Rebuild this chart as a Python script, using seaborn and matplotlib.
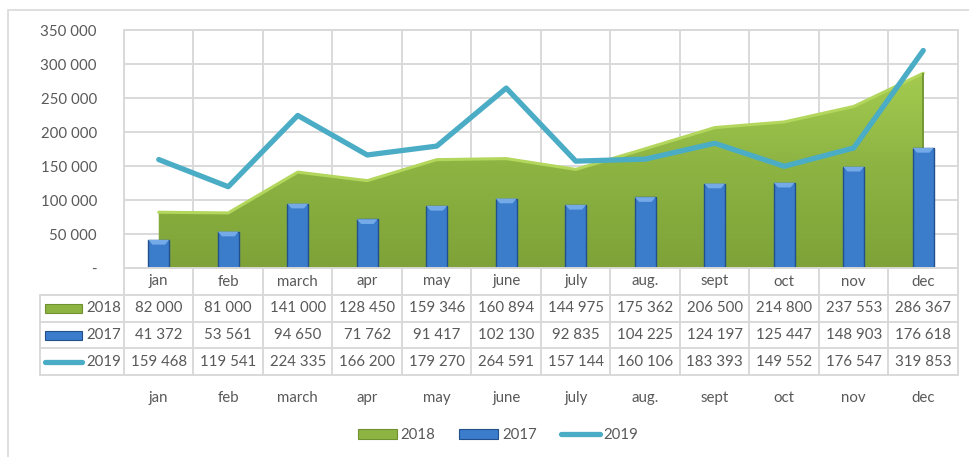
import numpy as np
import pandas as pd
import matplotlib
matplotlib.use("Agg")
import matplotlib.pyplot as plt
import matplotlib.patches as mpatches
from matplotlib.lines import Line2D
from matplotlib.colors import LinearSegmentedColormap
import seaborn as sns

months = ["jan", "feb", "march", "apr", "may", "june", "july", "aug.", "sept", "oct", "nov", "dec"]
sales_2018 = [82000, 81000, 141000, 128450, 159346, 160894, 144975, 175362, 206500, 214800, 237553, 286367]
sales_2017 = [41372, 53561, 94650, 71762, 91417, 102130, 92835, 104225, 124197, 125447, 148903, 176618]
sales_2019 = [159468, 119541, 224335, 166200, 179270, 264591, 157144, 160106, 183393, 149552, 176547, 319853]
y_ticks = [0, 50000, 100000, 150000, 200000, 250000, 300000, 350000]

sns.set_theme(style="white")
plt.rcParams["font.family"] = ["Lato", "DejaVu Sans"]
TXT = "#595959"
GRID = "#D9D9D9"
GREEN = "#8DB443"
GREEN_EDGE = "#B3D65C"
BLUE = "#3B7CCB"
BLUE_EDGE = "#22508C"
BLUE_TOP = "#74AAE8"
AQUA = "#4BACC6"
FS = 10.8

W, H = 970, 457
fig = plt.figure(figsize=(W / 100, H / 100), dpi=100)

def fx(px):
    return px / W

def fy(py):
    return 1 - py / H

# outer frame
fig.patches.append(mpatches.Rectangle((fx(8), fy(470)), fx(980), fy(10) - fy(470),
                                      transform=fig.transFigure, fill=False,
                                      edgecolor="#D9D9D9", linewidth=1.2))

L, R, T, B = 124, 958, 30, 268
ax = fig.add_axes([fx(L), fy(B), fx(R - L), fy(T) - fy(B)])
x = np.arange(len(months))

# 2018 area with gradient (light at top, darker at bottom)
poly = ax.fill_between(x, sales_2018, 0, color=GREEN, zorder=1, linewidth=0)
cmap = LinearSegmentedColormap.from_list("g", ["#7EA237", "#8DB443", "#A6CD50"])
grad = np.linspace(1, 0, 256).reshape(-1, 1)
im = ax.imshow(grad, cmap=cmap, vmin=0, vmax=1, aspect="auto",
               extent=[-0.5, 11.5, 0, 300000], origin="upper", zorder=1.1)
im.set_clip_path(poly.get_paths()[0], transform=ax.transData)
ax.plot(x, sales_2018, color=GREEN_EDGE, linewidth=2.2, zorder=1.2, solid_joinstyle="round")
ax.vlines(x[-1], 0, sales_2018[-1], color="#6F9130", linewidth=1.2, zorder=1.2)

# 2017 bars
df17 = pd.DataFrame({"month": months, "value": sales_2017})
sns.barplot(data=df17, x="month", y="value", order=months, ax=ax, width=0.3,
            color=BLUE, saturation=1, edgecolor=BLUE_EDGE, linewidth=1.0, zorder=2)
cap = 7000
for p in list(ax.patches):
    p.set_zorder(2)
    x0, w, h = p.get_x(), p.get_width(), p.get_height()
    bev = mpatches.Polygon([[x0, h], [x0 + w, h], [x0 + w * 0.8, h - cap], [x0 + w * 0.2, h - cap]],
                           closed=True, facecolor=BLUE_TOP, edgecolor="none", zorder=2.1)
    ax.add_patch(bev)

# 2019 line
sns.lineplot(x=x, y=sales_2019, ax=ax, color=AQUA, linewidth=3.8, zorder=3)

ax.set_xlim(-0.5, 11.5)
ax.set_ylim(0, 350000)
ax.set_yticks(y_ticks)
ax.set_yticklabels(["-" if v == 0 else f"{v:,}".replace(",", " ") for v in y_ticks],
                   color=TXT, fontsize=FS)
ax.tick_params(axis="y", length=0, pad=19.5)
ax.set_xticks([])
ax.set_xlabel("")
ax.set_ylabel("")
for v in y_ticks:
    ax.axhline(v, color=GRID, linewidth=1.4, zorder=0.5)
for k in range(13):
    ax.axvline(k - 0.5, color=GRID, linewidth=1.4, zorder=0.5)
for s in ax.spines.values():
    s.set_color(GRID)
    s.set_linewidth(1.4)

# data table
TL, TB = 40, 375
tax = fig.add_axes([fx(TL), fy(TB), fx(R - TL), fy(B) - fy(TB)])
cw = (R - L) / 12.0
xl = -0.5 - (L - TL) / cw
tax.set_xlim(xl, 11.5)
tax.set_ylim(TB - B, 0)
tax.axis("off")
rows_y = [0, 27, 54, 80, 107]
for yy in rows_y[1:]:
    tax.plot([xl, 11.5], [yy, yy], color=GRID, linewidth=1.4, clip_on=False)
for k in range(13):
    tax.plot([k - 0.5, k - 0.5], [0, 107], color=GRID, linewidth=1.4, clip_on=False)
tax.plot([xl, xl], [27, 107], color=GRID, linewidth=1.4, clip_on=False)

for i, m in enumerate(months):
    tax.text(i, 13.5, m, ha="center", va="center", color=TXT, fontsize=FS)

series = [("2018", sales_2018), ("2017", sales_2017), ("2019", sales_2019)]
for r, (name, vals) in enumerate(series):
    yc = (rows_y[r + 1] + rows_y[r + 2]) / 2
    for i, v in enumerate(vals):
        tax.text(i, yc, f"{v:,}".replace(",", " "), ha="center", va="center",
                 color=TXT, fontsize=FS)
    tax.text(-0.5 - 3 / cw, yc, name, ha="right", va="center", color=TXT, fontsize=FS)

def key(axh, x0, x1, yc, kind):
    if kind == "2018":
        axh.add_patch(mpatches.Rectangle((x0, yc - 4.5), x1 - x0, 9, facecolor=GREEN,
                                         edgecolor="#6F9130", linewidth=0.8, clip_on=False))
    elif kind == "2017":
        axh.add_patch(mpatches.Rectangle((x0, yc - 4.5), x1 - x0, 9, facecolor=BLUE,
                                         edgecolor=BLUE_EDGE, linewidth=0.8, clip_on=False))
    else:
        axh.plot([x0, x1], [yc, yc], color=AQUA, linewidth=3.8, solid_capstyle="round",
                 clip_on=False)

for r, (name, _) in enumerate(series):
    yc = (rows_y[r + 1] + rows_y[r + 2]) / 2
    key(tax, xl + 5 / cw, xl + 42 / cw, yc, name)

# second row of category labels
for i, m in enumerate(months):
    fig.text(fx(L + cw * (i + 0.5)), fy(398), m, ha="center", va="center",
             color=TXT, fontsize=FS)

# legend
handles = [mpatches.Patch(facecolor=GREEN, edgecolor="#6F9130", linewidth=0.8),
           mpatches.Patch(facecolor=BLUE, edgecolor=BLUE_EDGE, linewidth=0.8),
           Line2D([0], [0], color=AQUA, linewidth=3.8)]
fig.legend(handles, ["2018", "2017", "2019"], loc="center", ncol=3,
           bbox_to_anchor=(fx(498), fy(435)), frameon=False, fontsize=FS,
           handlelength=2.6, handleheight=0.7, handletextpad=0.25, columnspacing=1.6,
           labelcolor=TXT)

fig.savefig("out.png", dpi=100)
